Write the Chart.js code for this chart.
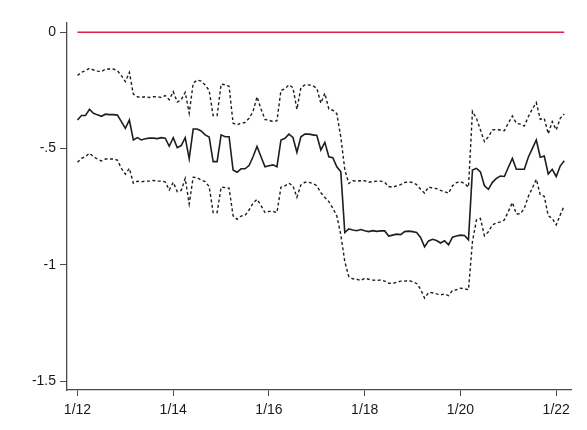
<!DOCTYPE html>
<html>
<head>
<meta charset="utf-8">
<script src="https://cdn.jsdelivr.net/npm/chart.js@4/dist/chart.umd.min.js"></script>
<style>
  html, body { margin: 0; padding: 0; background: #fff; }
  #wrap { width: 587px; height: 430px; position: relative; }
</style>
</head>
<body>
<div id="wrap"><canvas id="chart" width="587" height="430"></canvas></div>
<script>
// monthly estimates, Jan 2012 (index 0) onwards
const estimate = [
  -0.377, -0.358, -0.358, -0.331, -0.348, -0.355, -0.361, -0.352, -0.354, -0.354,
  -0.356, -0.384, -0.413, -0.377, -0.463, -0.453, -0.463, -0.458, -0.455, -0.455,
  -0.457, -0.453, -0.455, -0.490, -0.453, -0.496, -0.487, -0.453, -0.544, -0.416,
  -0.416, -0.424, -0.441, -0.450, -0.556, -0.556, -0.441, -0.449, -0.449, -0.592,
  -0.602, -0.587, -0.587, -0.573, -0.535, -0.491, -0.535, -0.578, -0.574, -0.570,
  -0.578, -0.463, -0.456, -0.438, -0.452, -0.516, -0.449, -0.438, -0.438, -0.441,
  -0.444, -0.506, -0.473, -0.535, -0.539, -0.578, -0.600, -0.861, -0.845, -0.850,
  -0.853, -0.848, -0.853, -0.857, -0.853, -0.856, -0.854, -0.854, -0.876, -0.872,
  -0.868, -0.870, -0.857, -0.855, -0.857, -0.861, -0.882, -0.922, -0.897, -0.890,
  -0.895, -0.906, -0.896, -0.914, -0.881, -0.876, -0.872, -0.874, -0.892, -0.592,
  -0.585, -0.600, -0.660, -0.675, -0.645, -0.628, -0.618, -0.620, -0.580, -0.542,
  -0.589, -0.589, -0.589, -0.537, -0.500, -0.463, -0.537, -0.532, -0.609, -0.589,
  -0.620, -0.575, -0.552
];

const upper = [
  -0.186, -0.172, -0.165, -0.155, -0.162, -0.167, -0.169, -0.158, -0.158, -0.158,
  -0.165, -0.186, -0.212, -0.172, -0.266, -0.277, -0.280, -0.277, -0.280, -0.277,
  -0.277, -0.280, -0.272, -0.290, -0.255, -0.300, -0.290, -0.258, -0.348, -0.219,
  -0.205, -0.210, -0.226, -0.250, -0.358, -0.358, -0.223, -0.226, -0.232, -0.391,
  -0.398, -0.390, -0.388, -0.370, -0.341, -0.277, -0.330, -0.375, -0.378, -0.384,
  -0.380, -0.250, -0.243, -0.226, -0.238, -0.331, -0.238, -0.226, -0.226, -0.230,
  -0.241, -0.305, -0.262, -0.330, -0.335, -0.350, -0.450, -0.590, -0.650, -0.638,
  -0.640, -0.638, -0.638, -0.645, -0.642, -0.640, -0.640, -0.645, -0.663, -0.666,
  -0.660, -0.655, -0.646, -0.643, -0.646, -0.655, -0.675, -0.692, -0.665, -0.670,
  -0.672, -0.680, -0.685, -0.692, -0.660, -0.646, -0.642, -0.650, -0.666, -0.340,
  -0.370, -0.420, -0.470, -0.449, -0.420, -0.418, -0.420, -0.423, -0.390, -0.360,
  -0.391, -0.395, -0.403, -0.363, -0.330, -0.302, -0.374, -0.370, -0.437, -0.384,
  -0.420, -0.370, -0.351
];

const lower = [
  -0.559, -0.542, -0.535, -0.520, -0.535, -0.545, -0.553, -0.545, -0.545, -0.545,
  -0.549, -0.585, -0.610, -0.585, -0.649, -0.640, -0.643, -0.640, -0.640, -0.637,
  -0.640, -0.640, -0.643, -0.678, -0.645, -0.685, -0.680, -0.628, -0.738, -0.623,
  -0.625, -0.635, -0.642, -0.663, -0.775, -0.775, -0.666, -0.668, -0.670, -0.789,
  -0.804, -0.790, -0.787, -0.764, -0.735, -0.718, -0.745, -0.775, -0.770, -0.770,
  -0.775, -0.666, -0.660, -0.649, -0.660, -0.709, -0.656, -0.645, -0.645, -0.650,
  -0.660, -0.690, -0.710, -0.728, -0.756, -0.790, -0.870, -0.986, -1.050, -1.060,
  -1.062, -1.067, -1.057, -1.062, -1.065, -1.067, -1.065, -1.070, -1.079, -1.080,
  -1.075, -1.070, -1.070, -1.067, -1.072, -1.080, -1.104, -1.143, -1.119, -1.120,
  -1.125, -1.129, -1.125, -1.132, -1.110, -1.107, -1.100, -1.103, -1.107, -0.900,
  -0.807, -0.800, -0.875, -0.858, -0.828, -0.820, -0.815, -0.807, -0.770, -0.732,
  -0.781, -0.780, -0.757, -0.706, -0.670, -0.632, -0.699, -0.705, -0.789, -0.800,
  -0.828, -0.785, -0.746
];

const xTicks = [0, 24, 48, 72, 96, 120];
const xTickLabels = ["1/12", "1/14", "1/16", "1/18", "1/20", "1/22"];
const yTicks = [-1.5, -1, -0.5, 0];
const yTickLabels = ["-1.5", "-1", "-.5", "0"];

function toPoints(values) {
  return values.map((v, i) => ({ x: i, y: v }));
}

const axisColor = "#4a4a4a";
const textColor = "#1a1a1a";

const ctx = document.getElementById("chart").getContext("2d");
new Chart(ctx, {
  type: "line",
  data: {
    datasets: [
      {
        label: "zero",
        data: toPoints(estimate.map(() => 0)),
        borderColor: "#dc1f4c",
        borderWidth: 1.5,
        pointRadius: 0,
      },
      {
        label: "upper",
        data: toPoints(upper),
        borderColor: "#1e1e1e",
        borderWidth: 1.4,
        borderDash: [3, 2.5],
        pointRadius: 0,
      },
      {
        label: "lower",
        data: toPoints(lower),
        borderColor: "#1e1e1e",
        borderWidth: 1.4,
        borderDash: [3, 2.5],
        pointRadius: 0,
      },
      {
        label: "estimate",
        data: toPoints(estimate),
        borderColor: "#1e1e1e",
        borderWidth: 1.6,
        pointRadius: 0,
      },
    ],
  },
  options: {
    responsive: false,
    animation: false,
    layout: { padding: { top: 23, right: 16, left: 0, bottom: 0 } },
    plugins: { legend: { display: false }, tooltip: { enabled: false } },
    scales: {
      x: {
        type: "linear",
        min: -2.63,
        max: 123.7,
        afterFit: (scale) => { scale.height = 40; },
        afterBuildTicks: (scale) => {
          scale.ticks = xTicks.map((v) => ({ value: v }));
        },
        ticks: {
          autoSkip: false,
          maxRotation: 0,
          padding: 6,
          color: textColor,
          font: { family: "'Liberation Sans', Arial, sans-serif", size: 14 },
          callback: (v) => xTickLabels[xTicks.indexOf(v)],
        },
        grid: {
          drawOnChartArea: false,
          drawTicks: true,
          tickLength: 6,
          tickColor: axisColor,
          tickWidth: 1,
        },
        border: { display: true, color: axisColor, width: 1.3 },
      },
      y: {
        type: "linear",
        min: -1.538,
        max: 0.04,
        afterFit: (scale) => { scale.width = 67; },
        afterBuildTicks: (scale) => {
          scale.ticks = yTicks.map((v) => ({ value: v }));
        },
        ticks: {
          autoSkip: false,
          padding: 4,
          color: textColor,
          font: { family: "'Liberation Sans', Arial, sans-serif", size: 14 },
          callback: (v) => yTickLabels[yTicks.indexOf(v)],
        },
        grid: {
          drawOnChartArea: false,
          drawTicks: true,
          tickLength: 7,
          tickColor: axisColor,
          tickWidth: 1,
        },
        border: { display: true, color: axisColor, width: 1.3 },
      },
    },
  },
});
</script>
</body>
</html>
